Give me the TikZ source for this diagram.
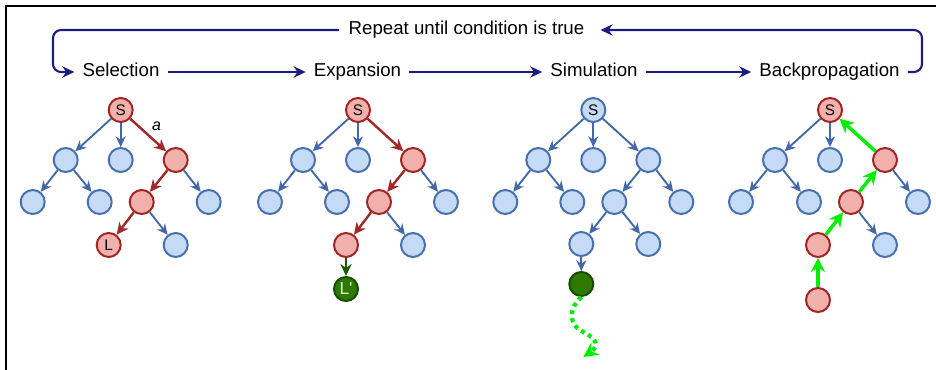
\documentclass[tikz,border=0pt]{standalone}
\usepackage{fontspec}
\setmainfont{Liberation Sans}
\usetikzlibrary{arrows.meta}
\definecolor{flownavy}{RGB}{28,28,128}
\definecolor{bluefill}{RGB}{197,218,245}
\definecolor{bluering}{RGB}{72,112,175}
\definecolor{blueedge}{RGB}{66,104,168}
\definecolor{redfill}{RGB}{242,176,173}
\definecolor{redring}{RGB}{160,38,38}
\definecolor{rededge}{RGB}{160,40,40}
\definecolor{greenfill}{RGB}{46,122,0}
\definecolor{greenring}{RGB}{24,76,0}
\definecolor{darkgreen}{RGB}{30,90,0}
\definecolor{brightgreen}{RGB}{0,238,0}
\begin{document}
\begin{tikzpicture}[x=0.75pt, y=-0.75pt,
  every node/.style={font=\fontsize{11.5}{13}\selectfont},
  stage/.style={font=\fontsize{14}{16}\selectfont, text height=0.72em, text depth=0pt, inner xsep=6pt, inner ysep=1pt},
  flow/.style={draw=flownavy, line width=1.6pt, rounded corners=6pt, -{Stealth[length=9pt,width=8.5pt]}},
  bnode/.style={circle, draw=bluering, fill=bluefill, line width=1.5pt, minimum size=18pt, inner sep=0pt},
  rnode/.style={bnode, draw=redring, fill=redfill},
  gnode/.style={bnode, draw=greenring, fill=greenfill, text=white!80!green},
  bedge/.style={draw=blueedge, line width=1.4pt, -{Stealth[length=8pt,width=7.5pt]}},
  redge/.style={draw=rededge, line width=1.8pt, -{Stealth[length=9pt,width=8.5pt]}},
  gedge/.style={draw=darkgreen, line width=1.8pt, -{Stealth[length=9pt,width=8.5pt]}},
  upedge/.style={draw=brightgreen, line width=2.6pt, -{Stealth[length=10.5pt,width=10.5pt]}}]
\useasboundingbox (0,0) rectangle (936,370);
\draw[line width=1.9pt] (936,6.2) -- (6.2,6.2) -- (6.2,370);

% stages and the loop
\node[stage, inner xsep=7pt] (trep) at (466.5,30) {Repeat until condition is true};
\node[stage] (tsel) at (121,72) {Selection};
\node[stage] (texp) at (357.5,72) {Expansion};
\node[stage] (tsim) at (594,72) {Simulation};
\node[stage] (tbp) at (829.5,72) {Backpropagation};
\coordinate (cl) at (53,30);
\coordinate (cr) at (922,30);
\draw[flow] (tsel) -- (texp);
\draw[flow] (texp) -- (tsim);
\draw[flow] (tsim) -- (tbp);
\draw[flow] (trep.west) -- (cl) |- (tsel.west);
\draw[flow, shorten >=5pt] (tbp.east) -| (cr) -- (trep.east);

% selection
\begin{scope}[shift={(120.7,110)}]
\node[rnode] (sel0) at (0,0) {S};
\node[bnode] (sel1) at (-55,50) {};
\node[bnode] (sel2) at (0,50) {};
\node[rnode] (sel3) at (55,50) {};
\node[bnode] (sel11) at (-88,92) {};
\node[bnode] (sel12) at (-21,92) {};
\node[rnode] (sel31) at (21,92) {};
\node[bnode] (sel32) at (88,92) {};
\node[rnode] (sel311) at (-12,135) {L};
\node[bnode] (sel312) at (55,135) {};
\foreach \a/\b in {sel0/sel1, sel0/sel2, sel1/sel11, sel1/sel12, sel3/sel32, sel31/sel312}
  \draw[bedge] (\a) -- (\b);
\draw[redge] (sel0) -- node[above right=0pt, inner sep=2pt, font=\fontsize{12}{13}\selectfont\itshape] {a} (sel3);
\draw[redge] (sel3) -- (sel31);
\draw[redge] (sel31) -- (sel311);
\end{scope}

% expansion
\begin{scope}[shift={(358,110)}]
\node[rnode] (exp0) at (0,0) {S};
\node[bnode] (exp1) at (-55,50) {};
\node[bnode] (exp2) at (0,50) {};
\node[rnode] (exp3) at (55,50) {};
\node[bnode] (exp11) at (-88,92) {};
\node[bnode] (exp12) at (-21,92) {};
\node[rnode] (exp31) at (21,92) {};
\node[bnode] (exp32) at (88,92) {};
\node[rnode] (exp311) at (-12,135) {};
\node[bnode] (exp312) at (55,135) {};
\node[gnode, font=\fontsize{13}{14}\selectfont] (exp4) at (-12,179) {L\textquotesingle};
\foreach \a/\b in {exp0/exp1, exp0/exp2, exp1/exp11, exp1/exp12, exp3/exp32, exp31/exp312}
  \draw[bedge] (\a) -- (\b);
\draw[redge] (exp0) -- (exp3);
\draw[redge] (exp3) -- (exp31);
\draw[redge] (exp31) -- (exp311);
\draw[gedge] (exp311) -- (exp4);
\end{scope}

% simulation
\begin{scope}[shift={(593.3,110)}]
\node[bnode] (sim0) at (0,0) {S};
\node[bnode] (sim1) at (-55,50) {};
\node[bnode] (sim2) at (0,50) {};
\node[bnode] (sim3) at (55,50) {};
\node[bnode] (sim11) at (-88,92) {};
\node[bnode] (sim12) at (-21,92) {};
\node[bnode] (sim31) at (21,92) {};
\node[bnode] (sim32) at (88,92) {};
\node[bnode] (sim311) at (-12,134) {};
\node[bnode] (sim312) at (55,134) {};
\node[gnode] (sim4) at (-12,174) {};
\coordinate (simend) at (-10,247);
\foreach \a/\b in {sim0/sim1, sim0/sim2, sim0/sim3, sim1/sim11, sim1/sim12, sim3/sim31, sim3/sim32, sim31/sim311, sim31/sim312, sim311/sim4}
  \draw[bedge] (\a) -- (\b);
\draw[draw=brightgreen, line width=3.2pt, dash pattern=on 3pt off 3pt, -{Stealth[length=11pt,width=11pt]}]
  (sim4.south) .. controls (-24,198) and (-26,214) .. (-10,222) .. controls (4,229) and (6,236) .. (simend);
\end{scope}

% backpropagation
\begin{scope}[shift={(830,110)}]
\node[rnode] (bp0) at (0,0) {S};
\node[bnode] (bp1) at (-55,50) {};
\node[bnode] (bp2) at (0,50) {};
\node[rnode] (bp3) at (55,50) {};
\node[bnode] (bp11) at (-89,92) {};
\node[bnode] (bp12) at (-21,92) {};
\node[rnode] (bp31) at (21,92) {};
\node[bnode] (bp32) at (88,92) {};
\node[rnode] (bp311) at (-12,135) {};
\node[bnode] (bp312) at (55,135) {};
\node[rnode] (bp4) at (-12,190) {};
\foreach \a/\b in {bp0/bp1, bp0/bp2, bp1/bp11, bp1/bp12, bp3/bp32, bp31/bp312}
  \draw[bedge] (\a) -- (\b);
\foreach \a/\b in {bp4/bp311, bp311/bp31, bp31/bp3, bp3/bp0}
  \draw[upedge] (\a) -- (\b);
\end{scope}
\end{tikzpicture}
\end{document}
